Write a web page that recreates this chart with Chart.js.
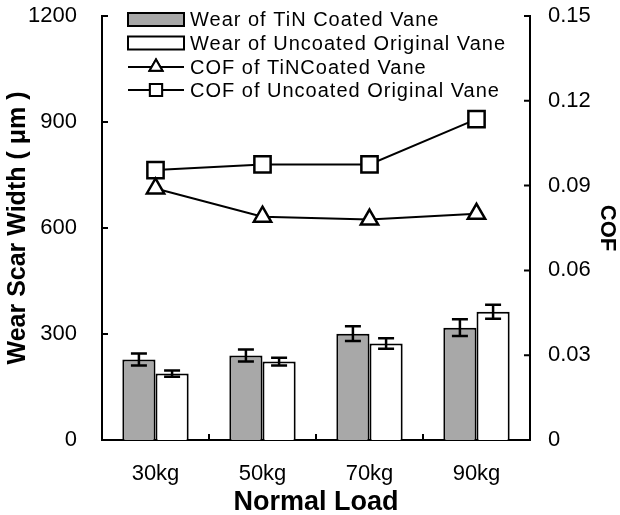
<!DOCTYPE html>
<html>
<head>
<meta charset="utf-8">
<script src="https://cdn.jsdelivr.net/npm/chart.js@4/dist/chart.umd.min.js"></script>
<style>
  html, body { margin: 0; padding: 0; background: #fff; }
</style>
</head>
<body>
<canvas id="chart" width="620" height="515"></canvas>
<script>
// donnees
var loads = ['30kg', '50kg', '70kg', '90kg'];
var wearTiN = [228, 239, 301, 318];
var wearTiNErr = [17, 17, 21, 24];
var wearUncoated = [188, 222, 273, 363];
var wearUncoatedErr = [9, 11, 15, 20];
var cofTiN = [0.089, 0.079, 0.078, 0.080];
var cofUncoated = [0.0955, 0.0975, 0.0975, 0.1135];

var legendLabels = [
  'Wear of TiN Coated Vane',
  'Wear of Uncoated Original Vane',
  'COF of TiNCoated Vane',
  'COF of Uncoated Original Vane'
];

var FONT = '"Liberation Sans", Arial, sans-serif';

// barres d'erreur
var errorBars = {
  id: 'errorBars',
  afterDatasetsDraw: function (chart) {
    var ctx = chart.ctx;
    var yScale = chart.scales.y;
    ctx.save();
    ctx.strokeStyle = '#000';
    ctx.lineWidth = 2.5;
    chart.data.datasets.forEach(function (ds, i) {
      if (!ds.errors) return;
      var meta = chart.getDatasetMeta(i);
      meta.data.forEach(function (bar, j) {
        var v = ds.data[j], e = ds.errors[j];
        var yt = yScale.getPixelForValue(v + e);
        var yb = yScale.getPixelForValue(v - e);
        ctx.beginPath();
        ctx.moveTo(bar.x, yt); ctx.lineTo(bar.x, yb);
        ctx.moveTo(bar.x - 8, yt); ctx.lineTo(bar.x + 8, yt);
        ctx.moveTo(bar.x - 8, yb); ctx.lineTo(bar.x + 8, yb);
        ctx.stroke();
      });
    });
    ctx.restore();
  }
};

// petits traits vers l'interieur sur les axes
var innerTicks = {
  id: 'innerTicks',
  afterDraw: function (chart) {
    var ctx = chart.ctx;
    var a = chart.chartArea;
    ctx.save();
    ctx.strokeStyle = '#000';
    ctx.lineWidth = 2;
    ctx.beginPath();
    chart.scales.y.ticks.forEach(function (t) {
      var y = chart.scales.y.getPixelForValue(t.value);
      ctx.moveTo(a.left, y); ctx.lineTo(a.left + 6, y);
    });
    chart.scales.y1.ticks.forEach(function (t) {
      var y = chart.scales.y1.getPixelForValue(t.value);
      ctx.moveTo(a.right, y); ctx.lineTo(a.right - 6, y);
    });
    var xs = chart.scales.x;
    for (var i = 1; i < loads.length; i++) {
      var x = (xs.getPixelForValue(i - 1) + xs.getPixelForValue(i)) / 2;
      ctx.moveTo(x, a.bottom); ctx.lineTo(x, a.bottom - 6);
    }
    ctx.stroke();
    ctx.restore();
  }
};

// legende dans la zone du graphique
var innerLegend = {
  id: 'innerLegend',
  afterDraw: function (chart) {
    var ctx = chart.ctx;
    var rows = [19.5, 43, 67, 90];
    var x0 = 128, x1 = 184;
    ctx.save();
    ctx.strokeStyle = '#000';
    ctx.lineWidth = 2;
    rows.forEach(function (y, i) {
      ctx.beginPath();
      if (i < 2) {
        ctx.fillStyle = i === 0 ? '#a8a8a8' : '#fff';
        ctx.rect(x0, y - 6.5, x1 - x0, 13);
        ctx.fill();
        ctx.stroke();
      } else {
        ctx.moveTo(x0, y); ctx.lineTo(x1, y);
        ctx.stroke();
        var ds = chart.data.datasets[i];
        Chart.helpers.drawPoint(ctx, {
          pointStyle: ds.pointStyle, radius: ds.pointRadius * 0.75, borderWidth: 2
        }, (x0 + x1) / 2, y);
        ctx.fillStyle = '#fff';
        ctx.fill();
        ctx.stroke();
      }
    });
    ctx.fillStyle = '#000';
    ctx.font = '20px ' + FONT;
    ctx.textBaseline = 'middle';
    if ('letterSpacing' in ctx) ctx.letterSpacing = '1px';
    rows.forEach(function (y, i) {
      ctx.fillText(legendLabels[i], 190, y + 1);
    });
    ctx.restore();
  }
};

var ctx = document.getElementById('chart').getContext('2d');

var myChart = new Chart(ctx, {
  type: 'bar',
  data: {
    labels: loads,
    datasets: [{
      label: legendLabels[0],
      data: wearTiN,
      errors: wearTiNErr,
      backgroundColor: '#a8a8a8',
      borderColor: '#000',
      borderWidth: 2,
      yAxisID: 'y',
      order: 2
    }, {
      label: legendLabels[1],
      data: wearUncoated,
      errors: wearUncoatedErr,
      backgroundColor: '#fff',
      borderColor: '#000',
      borderWidth: 2,
      yAxisID: 'y',
      order: 2
    }, {
      type: 'line',
      label: legendLabels[2],
      data: cofTiN,
      yAxisID: 'y1',
      borderColor: '#000',
      borderWidth: 2,
      pointStyle: 'triangle',
      pointRadius: 10,
      pointBorderWidth: 2.5,
      pointBackgroundColor: '#fff',
      pointBorderColor: '#000',
      tension: 0,
      order: 0
    }, {
      type: 'line',
      label: legendLabels[3],
      data: cofUncoated,
      yAxisID: 'y1',
      borderColor: '#000',
      borderWidth: 2,
      pointStyle: 'rect',
      pointRadius: 11.5,
      pointBorderWidth: 2.5,
      pointBackgroundColor: '#fff',
      pointBorderColor: '#000',
      tension: 0,
      order: 0
    }]
  },
  options: {
    responsive: false,
    animation: false,
    layout: { padding: { top: 16 } },
    plugins: {
      legend: { display: false },
      tooltip: { enabled: false }
    },
    datasets: {
      bar: { categoryPercentage: 0.62, barPercentage: 1.0, borderSkipped: 'start' }
    },
    scales: {
      x: {
        grid: { display: false },
        border: { display: true, color: '#000', width: 2 },
        ticks: { color: '#000', font: { family: FONT, size: 22 }, padding: 13 },
        title: {
          display: true, text: 'Normal Load', color: '#000',
          font: { family: FONT, size: 27, weight: 'bold' }, padding: { top: 0, bottom: -4 }
        },
        afterFit: function (s) { s.height = 75; }
      },
      y: {
        position: 'left',
        min: 0, max: 1200,
        ticks: {
          stepSize: 300, color: '#000', font: { family: FONT, size: 22 }, padding: 17,
          callback: function (v) { return String(v); }
        },
        grid: { display: false },
        border: { display: true, color: '#000', width: 2 },
        title: {
          display: true, text: 'Wear Scar Width ( \u03bcm )', color: '#000',
          font: { family: FONT, size: 25, weight: 'bold' }, padding: { top: 3, bottom: 0 }
        },
        afterFit: function (s) { s.width = 102; s.paddingTop = 0; s.paddingBottom = 0; }
      },
      y1: {
        position: 'right',
        min: 0, max: 0.15,
        ticks: {
          stepSize: 0.03, color: '#000', font: { family: FONT, size: 22 }, padding: 10,
          callback: function (v) { return v === 0 ? '0' : v.toFixed(2); }
        },
        grid: { display: false },
        border: { display: true, color: '#000', width: 2 },
        title: {
          display: true, text: 'COF', color: '#000',
          font: { family: FONT, size: 22, weight: 'bold' }, padding: { top: 0, bottom: 0 }
        },
        afterFit: function (s) { s.width = 90; s.paddingTop = 0; s.paddingBottom = 0; }
      }
    }
  },
  plugins: [errorBars, innerTicks, innerLegend]
});
</script>
</body>
</html>
